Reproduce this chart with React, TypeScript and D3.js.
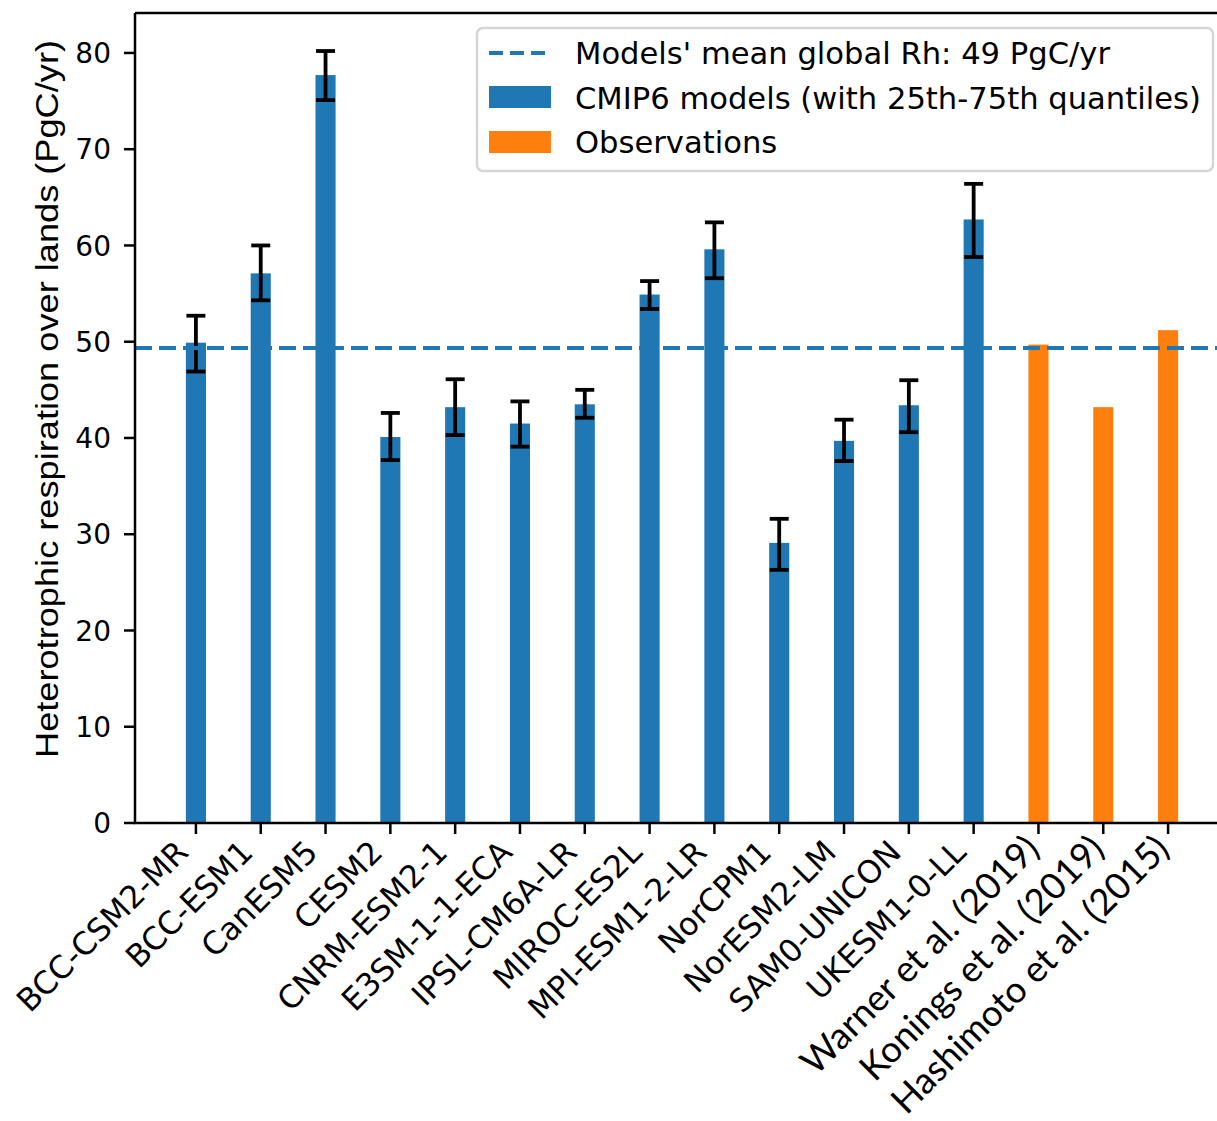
import React from 'react'
import * as d3 from 'd3'

// model / observation names along the x axis
const categories = [
  'BCC-CSM2-MR', 'BCC-ESM1', 'CanESM5', 'CESM2', 'CNRM-ESM2-1', 'E3SM-1-1-ECA',
  'IPSL-CM6A-LR', 'MIROC-ES2L', 'MPI-ESM1-2-LR', 'NorCPM1', 'NorESM2-LM',
  'SAM0-UNICON', 'UKESM1-0-LL', 'Warner et al. (2019)', 'Konings et al. (2019)',
  'Hashimoto et al. (2015)',
]
const kind = ['model', 'model', 'model', 'model', 'model', 'model', 'model', 'model',
  'model', 'model', 'model', 'model', 'model', 'obs', 'obs', 'obs']
// global Rh (PgC/yr)
const values = [49.9, 57.1, 77.7, 40.1, 43.2, 41.5, 43.5, 54.9, 59.6, 29.1, 39.7, 43.4, 62.7, 49.7, 43.2, 51.2]
const q25 = [46.9, 54.3, 75.1, 37.7, 40.3, 39.1, 42.1, 53.4, 56.6, 26.3, 37.6, 40.6, 58.8, null, null, null]
const q75 = [52.7, 60.0, 80.2, 42.6, 46.1, 43.8, 45.0, 56.3, 62.4, 31.6, 41.9, 46.0, 66.4, null, null, null]
const meanRh = 49.35
const yTicks = [0, 10, 20, 30, 40, 50, 60, 70, 80]
const legendLabels = [
  "Models' mean global Rh: 49 PgC/yr",
  'CMIP6 models (with 25th-75th quantiles)',
  'Observations',
]

const BLUE = '#1f77b4'
const ORANGE = '#ff7f0e'

export default function App() {
  const W = 1217
  const H = 1121
  const left = 135, right = 1229, top = 13, bottom = 823

  const x = d3.scalePoint<string>().domain(categories).range([left, right]).padding(0.94)
  const y = d3.scaleLinear().domain([0, 84.15]).range([bottom, top])
  const barW = x.step() * 0.31
  const capW = 19

  const tickFont = "'DejaVu Sans', sans-serif"
  const obsFont = "Lato, 'Open Sans', sans-serif"

  return (
    <svg width={W} height={H} style={{ position: 'absolute', left: 0, top: 0, background: '#fff', display: 'block' }}>
      {/* bars */}
      {categories.map((c, i) => (
        <rect key={c} x={x(c)! - barW / 2} y={y(values[i])} width={barW}
          height={y(0) - y(values[i])} fill={kind[i] === 'obs' ? ORANGE : BLUE} />
      ))}

      {/* error bars */}
      {categories.map((c, i) => {
        if (q25[i] == null) return null
        const cx = x(c)!
        return (
          <g key={'e' + c} stroke="#000" strokeWidth={3.8}>
            <line x1={cx} x2={cx} y1={y(q25[i] as number)} y2={y(q75[i] as number)} />
            <line x1={cx - capW / 2} x2={cx + capW / 2} y1={y(q25[i] as number)} y2={y(q25[i] as number)} />
            <line x1={cx - capW / 2} x2={cx + capW / 2} y1={y(q75[i] as number)} y2={y(q75[i] as number)} />
          </g>
        )
      })}

      {/* mean line */}
      <line x1={left} x2={W} y1={y(meanRh)} y2={y(meanRh)} stroke={BLUE}
        strokeWidth={4} strokeDasharray="17 7" />

      {/* spines */}
      <line x1={left} x2={left} y1={top} y2={bottom} stroke="#000" strokeWidth={2.5} />
      <line x1={left} x2={W} y1={top} y2={top} stroke="#000" strokeWidth={2.5} />
      <line x1={left - 1.25} x2={W} y1={bottom} y2={bottom} stroke="#000" strokeWidth={2.5} />

      {/* y axis */}
      {yTicks.map(t => (
        <g key={t}>
          <line x1={left - 11} x2={left} y1={y(t)} y2={y(t)} stroke="#000" strokeWidth={2.5} />
          <text x={left - 24} y={y(t)} dy="0.36em" textAnchor="end" fontFamily={tickFont}
            fontSize={28} fill="#000">{t}</text>
        </g>
      ))}
      <text transform={`translate(58,399) rotate(-90)`} textAnchor="middle"
        fontFamily="'Liberation Sans Narrow', 'Liberation Sans', Arial, sans-serif" fontSize={31}
        textLength={718} lengthAdjust="spacingAndGlyphs" fill="#000">
        Heterotrophic respiration over lands (PgC/yr)
      </text>

      {/* x axis */}
      {categories.map((c, i) => {
        const cx = x(c)!
        const obs = kind[i] === 'obs'
        const tx = obs ? cx + 3 : cx - 6
        const ty = obs ? bottom + 28 : bottom + 31
        return (
          <g key={'t' + c}>
            <line x1={cx} x2={cx} y1={bottom} y2={bottom + 11} stroke="#000" strokeWidth={2.5} />
            <text transform={`translate(${tx},${ty}) rotate(-45)`} textAnchor="end"
              fontFamily={obs ? obsFont : tickFont} fontSize={obs ? 36.5 : 31.5} fill="#000">{c}</text>
          </g>
        )
      })}

      {/* legend */}
      <g>
        <rect x={477} y={28} width={736} height={143} rx={6} fill="#fff" fillOpacity={0.85}
          stroke="#d6d6d6" strokeWidth={2.5} />
        <line x1={489} x2={551} y1={53} y2={53} stroke={BLUE} strokeWidth={4} strokeDasharray="14 7" />
        <rect x={489} y={86} width={62} height={22} fill={BLUE} />
        <rect x={489} y={131} width={62} height={22} fill={ORANGE} />
        {legendLabels.map((l, i) => (
          <text key={l} x={575} y={53 + i * 44.5} dy="0.36em" fontFamily={tickFont}
            fontSize={30.6} fill="#000">{l}</text>
        ))}
      </g>
    </svg>
  )
}
